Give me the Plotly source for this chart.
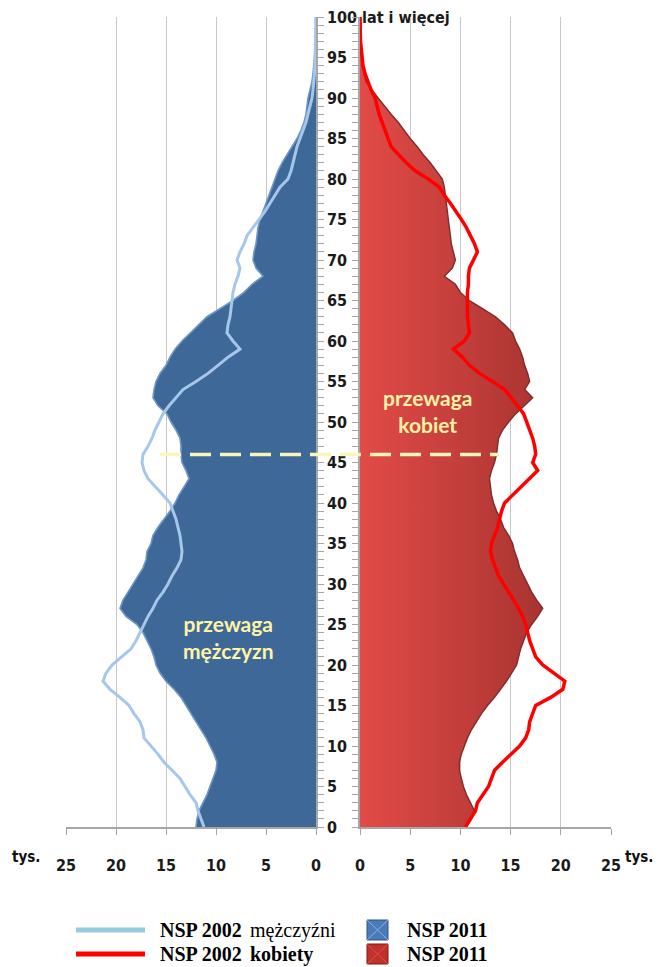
import plotly.graph_objects as go

# ---------------- data ----------------
ages = list(range(0, 101))

# NSP 2011 - men (thousands)
men_2011 = [12.0, 11.9, 11.7, 11.3, 10.9, 10.6, 10.3, 10.0, 9.9, 10.2,
            10.6, 11.0, 11.5, 12.0, 12.5, 13.0, 13.5, 14.2, 15.0, 15.6,
            16.0, 16.2, 16.5, 16.9, 17.3, 17.9, 19.0, 19.6, 19.3, 18.8,
            18.3, 17.8, 17.3, 17.0, 16.9, 16.5, 16.3, 15.8, 15.2, 14.6,
            14.1, 13.7, 13.2, 12.7, 13.0, 13.4, 13.5, 13.5, 13.6, 14.0,
            14.5, 14.9, 15.8, 16.3, 16.2, 16.0, 15.6, 15.0, 14.6, 14.1,
            13.4, 12.6, 11.8, 10.9, 9.6, 8.3, 7.2, 6.4, 5.3, 6.0,
            6.3, 6.2, 6.0, 5.9, 5.8, 5.6, 5.3, 5.0, 4.7, 4.4,
            4.1, 3.8, 3.4, 2.9, 2.4, 1.9, 1.5, 1.2, 1.0, 0.9,
            0.8, 0.6, 0.4, 0.3, 0.2, 0.15, 0.1, 0.05, 0.03, 0.02, 0.01]

# NSP 2002 - men (thousands)
men_2002 = [11.2, 11.5, 11.8, 12.0, 12.6, 13.1, 13.6, 14.4, 15.2, 15.8,
            16.5, 17.2, 17.3, 17.6, 18.2, 18.7, 19.6, 20.6, 21.3, 21.0,
            20.4, 19.4, 18.5, 18.0, 17.6, 17.2, 16.8, 16.3, 15.9, 15.3,
            14.8, 14.4, 13.9, 13.5, 13.4, 13.5, 13.6, 13.8, 14.0, 14.3,
            14.6, 15.3, 16.1, 16.8, 17.2, 17.4, 17.3, 16.8, 16.4, 16.1,
            15.7, 15.3, 14.7, 14.0, 13.3, 12.0, 10.8, 9.8, 8.8, 7.6,
            8.3, 8.9, 8.8, 8.6, 8.5, 8.4, 8.3, 8.1, 7.8, 7.6,
            7.9, 7.6, 7.2, 6.9, 6.3, 5.7, 5.1, 4.6, 4.1, 3.6,
            2.8, 2.5, 2.3, 2.1, 1.9, 1.6, 1.3, 1.0, 0.8, 0.6,
            0.4, 0.3, 0.2, 0.15, 0.1, 0.08, 0.05, 0.03, 0.02, 0.01, 0.01]

# NSP 2011 - women (thousands)
women_2011 = [10.6, 11.1, 11.4, 11.0, 10.6, 10.3, 10.1, 9.9, 9.9, 10.1,
              10.4, 10.7, 11.1, 11.6, 12.1, 12.7, 13.4, 14.0, 14.6, 15.1,
              15.6, 15.8, 16.0, 16.3, 16.6, 17.1, 17.7, 18.2, 17.6, 17.1,
              16.7, 16.3, 15.9, 15.7, 15.4, 15.2, 14.8, 14.3, 14.0, 13.6,
              13.3, 13.1, 13.0, 12.9, 13.1, 13.4, 13.6, 13.7, 13.8, 14.2,
              14.8, 15.5, 16.4, 17.2, 16.4, 16.9, 16.7, 16.4, 16.2, 15.9,
              15.5, 15.2, 14.4, 13.5, 12.2, 10.9, 10.0, 9.5, 8.4, 9.2,
              9.5, 9.3, 9.1, 9.0, 8.9, 8.8, 8.7, 8.6, 8.5, 8.4,
              8.2, 7.6, 7.0, 6.3, 5.7, 5.0, 4.4, 3.8, 3.1, 2.4,
              1.8, 1.2, 0.6, 0.4, 0.3, 0.2, 0.15, 0.1, 0.05, 0.03, 0.02]

# NSP 2002 - women (thousands)
women_2002 = [10.5, 11.0, 11.5, 11.7, 12.2, 12.8, 13.1, 13.4, 14.2, 15.0,
              15.9, 16.5, 16.8, 16.9, 17.2, 17.5, 19.0, 20.2, 20.4, 19.3,
              18.2, 17.5, 17.2, 16.9, 16.7, 16.5, 16.2, 15.8, 15.3, 14.8,
              14.2, 13.8, 13.5, 13.2, 13.0, 13.1, 13.4, 13.7, 13.9, 14.1,
              14.4, 15.2, 16.1, 16.9, 17.7, 17.2, 17.5, 17.4, 17.2, 16.9,
              16.6, 16.3, 15.7, 15.1, 14.4, 13.2, 11.9, 10.9, 10.2, 9.3,
              10.4, 10.9, 10.8, 10.7, 10.7, 10.7, 10.7, 10.8, 10.8, 10.9,
              11.3, 11.7, 11.4, 11.0, 10.6, 10.1, 9.6, 9.0, 8.4, 7.9,
              6.8, 5.5, 4.6, 3.8, 3.1, 2.8, 2.5, 2.2, 1.9, 1.7,
              1.5, 1.1, 0.8, 0.5, 0.3, 0.2, 0.1, 0.05, 0.03, 0.02, 0.01]

tick_ages = list(range(0, 101, 5))
tick_age_labels = [str(a) for a in range(0, 100, 5)] + ["100 lat i więcej"]
x_ticks = [0, 5, 10, 15, 20, 25]
x_tick_labels = ["0", "5", "10", "15", "20", "25"]
divider_age = 46
unit_label = "tys."
label_women = "przewaga<br>kobiet"
label_men = "przewaga<br>mężczyzn"
legend_rows = [
    ("NSP 2002", "mężczyźni", "NSP 2011"),
    ("NSP 2002", "<b>kobiety</b>", "NSP 2011"),
]

# ---------------- style ----------------
# the page places the figure 8px from the top-left corner of the window
OFF = 8
WIN_W, WIN_H = 664, 967
W, H = WIN_W - OFF, WIN_H - OFF
def px(x):
    return (x - OFF) / W
def py(y):
    return (WIN_H - y) / H

TICK_FONT = dict(family="DejaVu Sans Condensed, Liberation Sans Narrow, sans-serif", size=16,
                 color="#1a1a1a", weight="bold")
AX_COLOR = "#A6A6A6"
GRID_COLOR = "#C8C8C8"
BLUE = "#3E6898"
LIGHT_BLUE_LINE = "#A6C6EA"
RED_LINE = "#FF0000"
Y_DOMAIN = [py(827), py(17)]

fig = go.Figure()

# men 2011 area
fig.add_trace(go.Scatter(x=men_2011, y=ages, xaxis="x", yaxis="y", mode="lines",
                         fill="tozerox", fillcolor=BLUE,
                         line=dict(color="#6C95C8", width=1.6), hoverinfo="skip"))
# men 2002 line
fig.add_trace(go.Scatter(x=men_2002, y=ages, xaxis="x", yaxis="y", mode="lines",
                         line=dict(color=LIGHT_BLUE_LINE, width=3), hoverinfo="skip"))
# women 2011 area (gradient)
fig.add_trace(go.Scatter(x=women_2011, y=ages, xaxis="x2", yaxis="y2", mode="lines",
                         fill="tozerox",
                         fillgradient=dict(type="horizontal",
                                           colorscale=[[0, "#E24B47"], [1, "#A93431"]]),
                         line=dict(color="#7E2C2A", width=1.4), hoverinfo="skip"))
# women 2002 line
fig.add_trace(go.Scatter(x=women_2002, y=ages, xaxis="x2", yaxis="y2", mode="lines",
                         line=dict(color=RED_LINE, width=3.5), hoverinfo="skip"))

common_x = dict(tickvals=x_ticks, ticktext=x_tick_labels, showgrid=True,
                gridcolor=GRID_COLOR, gridwidth=1, zeroline=False,
                showline=True, linecolor=AX_COLOR, linewidth=1.5,
                ticks="outside", ticklen=6, tickcolor=AX_COLOR,
                tickfont=TICK_FONT, ticklabelstandoff=17, fixedrange=True,
                automargin=False, ticklabeloverflow="allow")
minor_y = dict(tickmode="linear", tick0=0, dtick=1, ticks="outside",
               ticklen=6, tickcolor=AX_COLOR)

fig.update_layout(
    width=W, height=H,
    margin=dict(l=0, r=0, t=0, b=0, pad=0),
    paper_bgcolor="white", plot_bgcolor="white",
    showlegend=False,
    xaxis=dict(domain=[px(66), px(316)], range=[25, 0], anchor="y", **common_x),
    xaxis2=dict(domain=[px(360), px(611)], range=[0, 25], anchor="y2", **common_x),
    yaxis=dict(domain=Y_DOMAIN, range=[0, 100], anchor="x", side="right",
               showline=True, linecolor=AX_COLOR, linewidth=1.5,
               ticks="outside", ticklen=6, tickcolor=AX_COLOR,
               tickvals=tick_ages, ticktext=tick_age_labels, tickfont=TICK_FONT,
               minor=minor_y, showgrid=False, zeroline=False, fixedrange=True,
               automargin=False, ticklabeloverflow="allow"),
    yaxis2=dict(domain=Y_DOMAIN, range=[0, 100], anchor="x2", side="left",
                matches="y",
                showline=True, linecolor=AX_COLOR, linewidth=1.5,
                ticks="outside", ticklen=6, tickcolor=AX_COLOR,
                tickvals=tick_ages, showticklabels=False,
                minor=minor_y, showgrid=False, zeroline=False, fixedrange=True,
                automargin=False),
)

shapes = []
# dashed divider line
shapes.append(dict(type="line", xref="paper", yref="y", x0=px(160), x1=px(499),
                   y0=divider_age, y1=divider_age, layer="above",
                   line=dict(color="#FAF5B8", width=3.5, dash="21px,9px")))

# legend samples
row_y = [930, 954]
shapes.append(dict(type="line", xref="paper", yref="paper", x0=px(76), x1=px(145),
                   y0=py(row_y[0]), y1=py(row_y[0]),
                   line=dict(color="#93CDDD", width=5)))
shapes.append(dict(type="line", xref="paper", yref="paper", x0=px(76), x1=px(145),
                   y0=py(row_y[1]), y1=py(row_y[1]),
                   line=dict(color="#FF0000", width=5)))
icon_styles = [("#4A7AB8", "#2F5587", "#8AB2E2"), ("#C0302C", "#7A1A18", "#E05050")]
for ry, (fillc, edge, diag) in zip(row_y, icon_styles):
    x0, x1, y0, y1 = px(367), px(388), py(ry + 10), py(ry - 10)
    shapes.append(dict(type="rect", xref="paper", yref="paper", x0=x0, x1=x1, y0=y0, y1=y1,
                       fillcolor=fillc, line=dict(color=edge, width=1)))
    shapes.append(dict(type="line", xref="paper", yref="paper", x0=x0, x1=x1, y0=y0, y1=y1,
                       line=dict(color=diag, width=1)))
    shapes.append(dict(type="line", xref="paper", yref="paper", x0=x0, x1=x1, y0=y1, y1=y0,
                       line=dict(color=diag, width=1)))
fig.update_layout(shapes=shapes)

annotations = []
LABEL_FONT = dict(family="Lato, Carlito, sans-serif", size=21, color="#FFF3A6")
annotations.append(dict(x=6.7, y=51.4, xref="x2", yref="y2", text="<b>" + label_women + "</b>",
                        showarrow=False, font=LABEL_FONT, align="center",
                        xanchor="center", yanchor="middle"))
annotations.append(dict(x=8.8, y=23.5, xref="x", yref="y", text="<b>" + label_men + "</b>",
                        showarrow=False, font=LABEL_FONT, align="center",
                        xanchor="center", yanchor="middle"))
UNIT_FONT = dict(family="DejaVu Sans Condensed, Liberation Sans Narrow, sans-serif", size=15, color="#111111")
for ux in (26, 639):
    annotations.append(dict(x=px(ux), y=py(857), xref="paper", yref="paper",
                            text="<b>" + unit_label + "</b>", showarrow=False, font=UNIT_FONT,
                            xanchor="center", yanchor="middle"))

LEG_FONT = dict(family="Liberation Serif, Times New Roman, serif", size=20, color="#000000")
for ry, (a, b, c) in zip(row_y, legend_rows):
    for lx, txt in ((158, "<b>" + a + "</b>"), (248, b), (405, "<b>" + c + "</b>")):
        annotations.append(dict(x=px(lx), y=py(ry), xref="paper", yref="paper",
                                xanchor="left", yanchor="middle",
                                text=txt, showarrow=False, font=LEG_FONT))
fig.update_layout(annotations=annotations)

fig.write_html("out.html")
